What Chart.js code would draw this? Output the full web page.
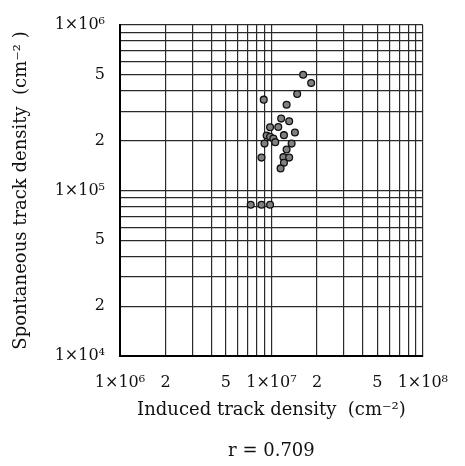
<!DOCTYPE html>
<html>
<head>
<meta charset="utf-8">
<script src="https://cdn.jsdelivr.net/npm/chart.js@4"></script>
<style>
  body { margin: 0; background: #fff; }
  #wrap { width: 465px; height: 466px; }
</style>
</head>
<body>
<div id="wrap"><canvas id="trackChart"></canvas></div>
<script>
// Induced (x) vs spontaneous (y) track density
const induced = [1.62e7, 1.83e7, 1.48e7, 8.9e6, 1.26e7, 1.16e7, 1.31e7, 9.8e6, 1.11e7, 1.43e7,
                 1.21e7, 9.3e6, 9.8e6, 1.03e7, 1.06e7, 9.0e6, 1.36e7, 1.26e7, 8.6e6, 1.20e7,
                 1.31e7, 1.21e7, 1.15e7, 7.3e6, 8.6e6, 9.8e6];
const spontaneous = [5.0e5, 4.46e5, 3.83e5, 3.54e5, 3.3e5, 2.72e5, 2.62e5, 2.41e5, 2.42e5, 2.24e5,
                     2.16e5, 2.15e5, 2.11e5, 2.06e5, 1.96e5, 1.92e5, 1.92e5, 1.77e5, 1.58e5, 1.59e5,
                     1.58e5, 1.47e5, 1.36e5, 8.2e4, 8.2e4, 8.2e4];

// tick labels
const xTickValues = [1e6, 2e6, 5e6, 1e7, 2e7, 5e7, 1e8];
const xTickLabels = ['1×10⁶', '2', '5', '1×10⁷', '2', '5', '1×10⁸'];
const yTickValues = [1e4, 2e4, 5e4, 1e5, 2e5, 5e5, 1e6];
const yTickLabels = ['1×10⁴', '2', '5', '1×10⁵', '2', '5', '1×10⁶'];

const points = induced.map(function(x, i) { return { x: x, y: spontaneous[i] }; });

// every 1..9 line of each decade for the log grid
function decadeTicks(min, max) {
  const out = [];
  for (let d = min; d < max; d *= 10) {
    for (let k = 1; k <= 9; k++) out.push({ value: k * d });
  }
  out.push({ value: max });
  return out;
}

function labelFor(values, labels) {
  return function(value) {
    for (let i = 0; i < values.length; i++) {
      if (Math.abs(value - values[i]) / values[i] < 1e-6) return labels[i];
    }
    return '';
  };
}

const serif = "'DejaVu Serif', serif";

const ctx = document.getElementById('trackChart').getContext('2d');
new Chart(ctx, {
  type: 'scatter',
  data: {
    datasets: [{
      data: points,
      pointRadius: 3.4,
      pointBackgroundColor: '#808080',
      pointBorderColor: '#111',
      pointBorderWidth: 1.3
    }]
  },
  options: {
    responsive: true,
    maintainAspectRatio: false,
    animation: false,
    layout: { padding: { top: 25, right: 42, bottom: 0, left: 0 } },
    plugins: {
      legend: { display: false },
      tooltip: { enabled: false }
    },
    scales: {
      x: {
        type: 'logarithmic',
        min: 1e6,
        max: 1e8,
        afterBuildTicks: function(scale) { scale.ticks = decadeTicks(1e6, 1e8); },
        afterFit: function(scale) { scale.height = 110; },
        border: { color: '#000', width: 2 },
        grid: { color: '#2a2a2a', lineWidth: 1.2, drawTicks: false },
        ticks: {
          autoSkip: false,
          maxRotation: 0,
          padding: 17,
          color: '#111',
          font: { family: serif, size: 16 },
          callback: labelFor(xTickValues, xTickLabels)
        },
        title: {
          display: true,
          text: ['Induced track density  (cm⁻²)', '', 'r = 0.709'],
          color: '#111',
          font: { family: serif, size: 18, lineHeight: 1.14 },
          padding: { top: 0, bottom: 4 }
        }
      },
      y: {
        type: 'logarithmic',
        min: 1e4,
        max: 1e6,
        afterBuildTicks: function(scale) { scale.ticks = decadeTicks(1e4, 1e6); },
        afterFit: function(scale) { scale.width = 120; },
        border: { color: '#000', width: 2 },
        grid: { color: '#2a2a2a', lineWidth: 1.2, drawTicks: false },
        ticks: {
          autoSkip: false,
          padding: 15,
          color: '#111',
          font: { family: serif, size: 16 },
          callback: labelFor(yTickValues, yTickLabels)
        },
        title: {
          display: true,
          text: 'Spontaneous track density  (cm⁻² )',
          color: '#111',
          font: { family: serif, size: 18, lineHeight: 1.2 },
          padding: { top: 11, bottom: 0 }
        }
      }
    }
  }
});
</script>
</body>
</html>
